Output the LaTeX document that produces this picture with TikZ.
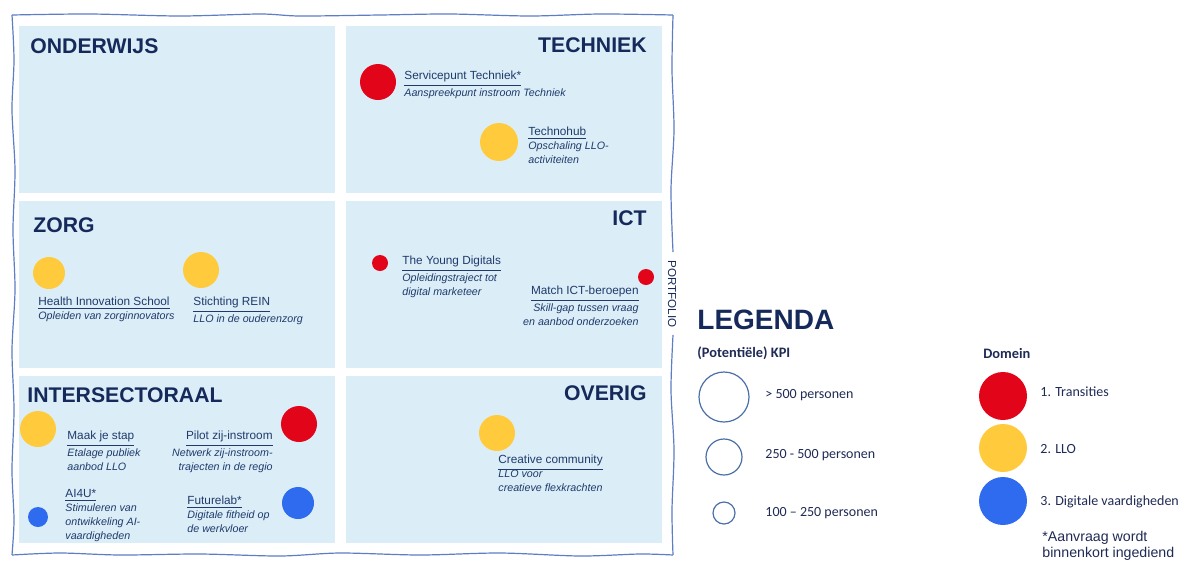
\documentclass[tikz,border=0pt]{standalone}
\usepackage{fontspec}
\setmainfont{Liberation Sans}
\newfontfamily\legfont{Carlito}
\usepackage{xcolor}
\usetikzlibrary{positioning}
\definecolor{paneel}{HTML}{DBEEF8}
\definecolor{kopblauw}{HTML}{15295A}
\definecolor{tekstblauw}{HTML}{1F3A6B}
\definecolor{rood}{HTML}{E2051A}
\definecolor{geel}{HTML}{FFCB3D}
\definecolor{blauw}{HTML}{2E6BEE}
\definecolor{ringblauw}{HTML}{4A6FA8}
\definecolor{lijnblauw}{HTML}{5E7DC4}
\definecolor{legtekst}{HTML}{1F2A55}
\newcommand{\ondertitel}[1]{{\fontsize{5.35}{7}\selectfont\itshape #1}}

\begin{document}
\begin{tikzpicture}[x=0.5pt, y=-0.5pt,
  kop/.style={font=\bfseries\fontsize{10.6}{12}\selectfont, text=kopblauw, inner sep=0pt},
  item/.style={align=left, inner sep=0pt, text=tekstblauw, font=\fontsize{5.9}{7}\selectfont},
  bol/.style={circle, inner sep=0pt, minimum size=#1},
  ring/.style={circle, draw=ringblauw, line width=0.6pt, inner sep=0pt, minimum size=#1},
  leg/.style={font=\legfont\fontsize{7}{8}\selectfont, text=legtekst, inner sep=0pt, anchor=west},
  legkop/.style={leg, font=\legfont\bfseries\fontsize{7.2}{8}\selectfont},
  rand/.style={lijnblauw, line width=0.6pt}]
\useasboundingbox (0,0) rectangle (1192,563);

\foreach \x in {19,346}
  \foreach \y in {26,201,376}
    \fill[paneel] (\x,\y) rectangle ++(316,167);

\draw[rand] plot[smooth] coordinates {(12,15) (90,14) (180,16) (260,14) (300,16) (380,15) (450,14) (530,16) (600,14) (673,15)};
\draw[rand] plot[smooth] coordinates {(12,15) (14,60) (12,110) (15,170) (13,230) (15,290) (12,350) (14,410) (12,470) (14,520) (12,555)};
\draw[rand] plot[smooth] coordinates {(12,555) (60,553) (120,555) (200,554) (280,556) (340,553) (420,555) (500,553) (580,556) (640,554) (673,555)};
\draw[rand] plot[smooth] coordinates {(673,15) (672,70) (674,130) (671,190) (673,252)};
\draw[rand] plot[smooth] coordinates {(673,335) (671,390) (674,450) (672,510) (673,555)};
\node[rotate=-90, inner sep=0pt, font=\fontsize{5.8}{7}\selectfont, text=kopblauw] (portfolio) at (672,294) {PORTFOLIO};

\node[kop, anchor=west] (onderwijs) at (30,46) {ONDERWIJS};
\node[kop, anchor=east] (techniek) at (647,45) {TECHNIEK};
\node[kop, anchor=west] (zorg) at (33,225) {ZORG};
\node[kop, anchor=east] (ict) at (647,218) {ICT};
\node[kop, anchor=west] (intersectoraal) at (27,395) {INTERSECTORAAL};
\node[kop, anchor=east] (overig) at (647,393) {OVERIG};

\node[bol=18pt, fill=rood] (servicepunt) at (378,82) {};
\node[item, anchor=north west] (servicepunttxt) at (404,71)
  {\underline{Servicepunt Techniek*}\\\ondertitel{Aanspreekpunt instroom Techniek}};
\node[bol=19pt, fill=geel] (technohub) at (499,142) {};
\node[item, anchor=north west] (technohubtxt) at (528,127)
  {\underline{Technohub}\\\ondertitel{Opschaling LLO-}\\\ondertitel{activiteiten}};

\node[bol=16pt, fill=geel] (health) at (49,273) {};
\node[item, anchor=north west] (healthtxt) at (38,297)
  {\underline{Health Innovation School}\\\ondertitel{Opleiden van zorginnovators}};
\node[bol=18pt, fill=geel] (rein) at (201,270) {};
\node[item, anchor=north west] (reintxt) at (193,297)
  {\underline{Stichting REIN}\\\ondertitel{LLO in de ouderenzorg}};

\node[bol=8pt, fill=rood] (young) at (380,263) {};
\node[item, anchor=north west] (youngtxt) at (402,256)
  {\underline{The Young Digitals}\\\ondertitel{Opleidingstraject tot}\\\ondertitel{digital marketeer}};
\node[bol=8pt, fill=rood] (match) at (646,277) {};
\node[item, anchor=north east, align=right] (matchtxt) at (639,286)
  {\underline{Match ICT-beroepen}\\\ondertitel{Skill-gap tussen vraag}\\\ondertitel{en aanbod onderzoeken}};

\node[bol=18pt, fill=geel] (maak) at (38,429) {};
\node[item, anchor=north west] (maaktxt) at (67,431)
  {\underline{Maak je stap}\\\ondertitel{Etalage publiek}\\\ondertitel{aanbod LLO}};
\node[bol=18pt, fill=rood] (pilot) at (299,424) {};
\node[item, anchor=north east, align=right] (pilottxt) at (273,431)
  {\underline{Pilot zij-instroom}\\\ondertitel{Netwerk zij-instroom-}\\\ondertitel{trajecten in de regio}};
\node[bol=10pt, fill=blauw] (ai4u) at (38,517) {};
\node[item, anchor=north west] (ai4utxt) at (65,489)
  {\underline{AI4U*}\\\ondertitel{Stimuleren van}\\\ondertitel{ontwikkeling AI-}\\\ondertitel{vaardigheden}};
\node[bol=16pt, fill=blauw] (futurelab) at (298,503) {};
\node[item, anchor=north west] (futurelabtxt) at (187,496)
  {\underline{Futurelab*}\\\ondertitel{Digitale fitheid op}\\\ondertitel{de werkvloer}};

\node[bol=18pt, fill=geel] (creative) at (497,433) {};
\node[item, anchor=north west] (creativetxt) at (498,455)
  {\underline{Creative community}\\\ondertitel{LLO voor}\\\ondertitel{creatieve flexkrachten}};

\node[anchor=west, inner sep=0pt, font=\bfseries\fontsize{14}{16}\selectfont, text=kopblauw] (legenda) at (697,320) {LEGENDA};
\node[legkop] (kpi) at (697,353) {(Potentiële) KPI};
\node[ring=25pt] (groot) at (724,397) {};
\node[ring=18pt] (midden) at (724,457) {};
\node[ring=11pt] (klein) at (724,513) {};
\node[leg] (grootlbl) at (765,395) {> 500 personen};
\node[leg] (middenlbl) at (765,455) {250 - 500 personen};
\node[leg] (kleinlbl) at (765,513) {100 – 250 personen};

\node[legkop] (domein) at (983,353) {Domein};
\node[bol=24pt, fill=rood] (transities) at (1003,396) {};
\node[bol=24pt, fill=geel] (llo) at (1003,448) {};
\node[bol=24pt, fill=blauw] (digitaal) at (1003,501) {};
\node[leg] (transitieslbl) at (1040,392) {1. Transities};
\node[leg] (llolbl) at (1040,449) {2. LLO};
\node[leg] (digitaallbl) at (1040,502) {3. Digitale vaardigheden};
\node[anchor=north west, align=left, inner sep=0pt, text=legtekst, font=\fontsize{7.1}{8}\selectfont] (aanvraag) at (1042,531)
  {*Aanvraag wordt\\binnenkort ingediend};
\end{tikzpicture}
\end{document}
